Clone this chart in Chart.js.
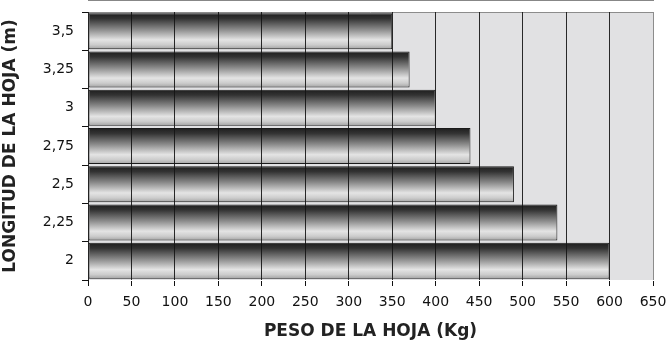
<!DOCTYPE html>
<html>
<head>
<meta charset="utf-8">
<script src="https://cdn.jsdelivr.net/npm/chart.js@4"></script>
<style>
  html, body { margin: 0; padding: 0; background: #fff; }
  #wrap { width: 668px; height: 342px; }
</style>
</head>
<body>
<div id="wrap"><canvas id="myChart" width="668" height="342"></canvas></div>
<script>
// datos (de arriba hacia abajo)
var longitudes = ['3,5', '3,25', '3', '2,75', '2,5', '2,25', '2'];
var pesos = [350, 370, 400, 440, 490, 540, 600];
var xMin = 0, xMax = 650, xStep = 50;

var BAR_PCT = 0.94;

// fondo gris del area de trazado + borde superior/derecho
var plotBg = {
  id: 'plotBg',
  beforeDatasetsDraw: function (chart) {
    var a = chart.chartArea, c = chart.ctx;
    c.save();
    c.fillStyle = '#e1e1e3';
    c.fillRect(a.left, a.top, a.right - a.left, a.bottom - a.top);
    c.strokeStyle = '#8c8c8c';
    c.lineWidth = 1;
    c.beginPath();
    c.moveTo(a.left, a.top + 0.5);
    c.lineTo(a.right + 0.5, a.top + 0.5);
    c.lineTo(a.right + 0.5, a.bottom);
    c.stroke();
    c.restore();
  }
};

function barGradient(context) {
  var chart = context.chart;
  var a = chart.chartArea;
  if (!a || !chart.scales.y) return '#999';
  var yc = chart.scales.y.getPixelForValue(context.dataIndex);
  var half = (a.bottom - a.top) / longitudes.length * BAR_PCT / 2;
  var g = chart.ctx.createLinearGradient(0, yc - half, 0, yc + half);
  g.addColorStop(0, '#1e1e1e');
  g.addColorStop(0.15, '#333333');
  g.addColorStop(0.45, '#8a8a8a');
  g.addColorStop(0.74, '#e4e4e4');
  g.addColorStop(0.88, '#cccccc');
  g.addColorStop(1, '#a2a2a2');
  return g;
}

new Chart(document.getElementById('myChart'), {
  type: 'bar',
  data: {
    labels: longitudes,
    datasets: [{
      data: pesos,
      backgroundColor: barGradient,
      borderColor: '#1a1a1a',
      borderWidth: 1,
      borderSkipped: false,
      barPercentage: BAR_PCT,
      categoryPercentage: 1
    }]
  },
  options: {
    indexAxis: 'y',
    responsive: false,
    animation: false,
    layout: { padding: { top: 12, right: 15, left: 0, bottom: 0 } },
    plugins: { legend: { display: false }, tooltip: { enabled: false } },
    scales: {
      x: {
        min: xMin, max: xMax,
        ticks: {
          stepSize: xStep,
          color: '#111',
          font: { family: 'DejaVu Sans', size: 14 },
          padding: 8,
          maxRotation: 0
        },
        grid: {
          z: 1,
          color: function (ctx) { return ctx.tick && ctx.tick.value === xMax ? '#8c8c8c' : 'rgba(20,20,20,0.9)'; },
          lineWidth: 1,
          tickLength: 6,
          tickColor: '#111'
        },
        border: { display: true, color: '#111', width: 1 },
        title: {
          display: true,
          text: 'PESO DE LA HOJA (Kg)',
          color: '#222',
          font: { family: 'DejaVu Sans', size: 17, weight: 'bold' },
          padding: { top: 0, bottom: 0 }
        },
        afterFit: function (s) { s.height = 62; s.paddingLeft = 0; s.paddingRight = 0; }
      },
      y: {
        ticks: {
          color: '#111',
          font: { family: 'DejaVu Sans', size: 14 },
          padding: 8
        },
        grid: {
          offset: true,
          drawOnChartArea: false,
          tickLength: 6,
          tickColor: '#111'
        },
        border: { display: true, color: '#111', width: 1 },
        title: {
          display: true,
          text: 'LONGITUD DE LA HOJA (m)',
          color: '#222',
          font: { family: 'DejaVu Sans', size: 17, weight: 'bold' },
          padding: { top: 0, bottom: 2 }
        },
        afterFit: function (s) { s.width = 88; s.paddingTop = 0; s.paddingBottom = 0; }
      }
    }
  },
  plugins: [plotBg]
});
</script>
</body>
</html>
